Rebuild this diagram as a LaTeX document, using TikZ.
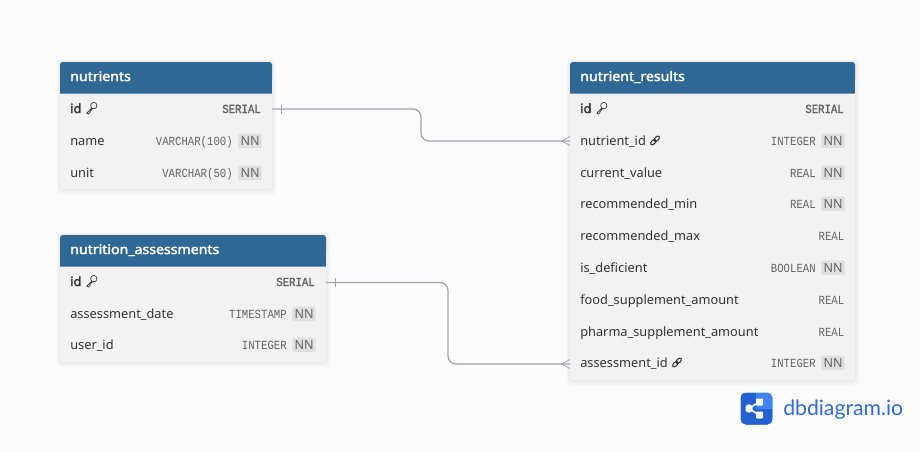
\documentclass[tikz,border=0pt]{standalone}
\usepackage{fontspec}
\setmainfont{Noto Sans}
\newfontfamily\boldf{Noto Sans}[FakeBold=2.2]
\newfontfamily\headf{Noto Sans}[FakeBold=2.4,FakeStretch=1.07]
\newfontfamily\monof[FakeStretch=0.86]{Liberation Mono}
\newfontfamily\monobf[FakeStretch=0.86,FakeBold=1.4]{Liberation Mono}
\newfontfamily\logof{Lato}
\usetikzlibrary{calc}
\definecolor{headblue}{HTML}{2F6795}
\definecolor{headline}{HTML}{6E97BB}
\definecolor{bodygray}{HTML}{F2F2F2}
\definecolor{pagebg}{HTML}{FCFCFC}
\definecolor{edgegray}{HTML}{A2A2AC}
\definecolor{fieldtxt}{HTML}{333333}
\definecolor{typetxt}{HTML}{646464}
\definecolor{nnbg}{HTML}{DFDFDF}
\definecolor{logoblue}{HTML}{2E6BDD}
\definecolor{logolite}{HTML}{3F83F0}
\definecolor{logodark}{HTML}{2361D0}
\tikzset{
  x=0.75pt,y=-0.75pt,
  fieldname/.style={anchor=base west,inner sep=0pt,text=fieldtxt,font=\fontsize{9.6pt}{11pt}\selectfont},
  pkname/.style={fieldname,font=\fontsize{9.6pt}{11pt}\boldf},
  typename/.style={anchor=base east,inner sep=0pt,text=typetxt,font=\fontsize{9.3pt}{11pt}\monof},
  pktype/.style={typename,font=\fontsize{9.3pt}{11pt}\monobf},
  nnbadge/.style={anchor=base east,inner xsep=1.6pt,inner ysep=0pt,fill=nnbg,rounded corners=1pt,text=typetxt,
     text height=8.6pt,text depth=2.4pt,font=\fontsize{9.4pt}{11pt}\selectfont},
  headtext/.style={anchor=base west,inner sep=0pt,text=white,font=\fontsize{9.9pt}{11pt}\headf},
  rel/.style={draw=edgegray,line width=0.95pt,rounded corners=6pt},
  relthin/.style={draw=edgegray,line width=0.6pt},
  keyicon/.style={draw=fieldtxt,line width=0.5pt,fill=none,line cap=round,line join=round},
}
\newcommand{\tableframe}[5]{%
  \foreach \s/\o in {4/0.010,3/0.014,2/0.018,1/0.024}{
    \fill[black,opacity=\o,rounded corners=3pt] (#1-\s*1.0,#2-\s*0.8) rectangle (#3+\s*1.2,#4+\s*1.6);
  }
  \fill[bodygray,rounded corners=2.2pt] (#1,#2+10) rectangle (#3,#4);
  \fill[headblue,rounded corners=2.2pt] (#1,#2) rectangle (#3,#2+20);
  \fill[headblue] (#1,#2+10) rectangle (#3,#2+31.2);
  \draw[headline,line width=0.6pt] (#1,#2+31.6) -- (#3,#2+31.6);
  \node[headtext] at (#1+10,#2+19) {#5};
}
\newcommand{\keyat}[2]{%
  \begin{scope}[shift={(#1,#2)}]
    \draw[keyicon] (2.3,-2.4) circle[radius=3.2];
    \draw[keyicon] (0.2,0.1) -- (-4.8,5.1) -- (-3.2,6) -- (-2.2,5) -- (-1.6,4.6) -- (-1.4,3.4) -- (1.0,0.9);
  \end{scope}}
\newcommand{\linkat}[2]{%
  \begin{scope}[shift={(#1,#2)}]
    \draw[draw=fieldtxt,line width=0.8pt,rotate=45] (-2.4,0) ellipse[x radius=3.3,y radius=1.9];
    \draw[draw=fieldtxt,line width=0.8pt,rotate=45] (2.4,0) ellipse[x radius=3.3,y radius=1.9];
  \end{scope}}
\newcommand{\typenn}[4]{%
  \node[nnbadge] (#1b) at (#2-10,#3) {NN};
  \node[typename] (#1t) at (#2-39,#3) {#4};
}
\newcommand{\typeonly}[4]{%
  \node[typename] (#1t) at (#2-10.5,#3) {#4};
}
\begin{document}
\begin{tikzpicture}
\useasboundingbox (0,0) rectangle (920,451);
\fill[pagebg] (0,0) rectangle (920,451);

% ---------- nutrients
\tableframe{60}{62}{272}{189}{nutrients}
\node[pkname] (n1n) at (70,113) {id};
\keyat{91.5}{108}
\node[pktype] (n1t) at (261,113) {SERIAL};
\coordinate (n1r) at (272,109);
\node[fieldname] (n2n) at (70,145) {name};
\typenn{n2}{272}{145}{VARCHAR(100)}
\node[fieldname] (n3n) at (70,177) {unit};
\typenn{n3}{272}{177}{VARCHAR(50)}

% ---------- nutrition_assessments
\tableframe{60}{235}{326}{362}{nutrition\_assessments}
\node[pkname] (a1n) at (70,286) {id};
\keyat{91.5}{281}
\node[pktype] (a1t) at (315,286) {SERIAL};
\coordinate (a1r) at (326,282.5);
\node[fieldname] (a2n) at (70,318) {assessment\_date};
\typenn{a2}{326}{318}{TIMESTAMP}
\node[fieldname] (a3n) at (70,349) {user\_id};
\typenn{a3}{326}{349}{INTEGER}

% ---------- nutrient_results
\tableframe{570}{62}{855}{380}{nutrient\_results}
\node[pkname] (r1n) at (580,113) {id};
\keyat{601.5}{108}
\node[pktype] (r1t) at (844,113) {SERIAL};
\node[fieldname] (r2n) at (580,145) {nutrient\_id};
\linkat{655}{140.5}
\coordinate (r2l) at (570,141);
\typenn{r2}{855}{145}{INTEGER}
\node[fieldname] (r3n) at (580,177) {current\_value};
\typenn{r3}{855}{177}{REAL}
\node[fieldname] (r4n) at (580,208) {recommended\_min};
\typenn{r4}{855}{208}{REAL}
\node[fieldname] (r5n) at (580,240) {recommended\_max};
\typeonly{r5}{855}{240}{REAL}
\node[fieldname] (r6n) at (580,272) {is\_deficient};
\typenn{r6}{855}{272}{BOOLEAN}
\node[fieldname] (r7n) at (580,304) {food\_supplement\_amount};
\typeonly{r7}{855}{304}{REAL}
\node[fieldname] (r8n) at (580,336) {pharma\_supplement\_amount};
\typeonly{r8}{855}{336}{REAL}
\node[fieldname] (r9n) at (580,367) {assessment\_id};
\linkat{677}{362.5}
\coordinate (r9l) at (570,364);
\typenn{r9}{855}{367}{INTEGER}

% ---------- connectors
\coordinate (m1) at (421,0);
\coordinate (m2) at (448,0);
\draw[rel] (n1r) -- (n1r -| m1) -- (r2l -| m1) -- (r2l);
\draw[rel] (a1r) -- (a1r -| m2) -- (r9l -| m2) -- (r9l);
\draw[relthin] ($(n1r)+(9.5,-4.5)$) -- ($(n1r)+(9.5,4.5)$);
\draw[relthin] ($(a1r)+(9.5,-4.5)$) -- ($(a1r)+(9.5,4.5)$);
\draw[relthin] ($(r2l)+(0,-4.5)$) -- ($(r2l)+(-8.5,0)$) -- ($(r2l)+(0,4.5)$);
\draw[relthin] ($(r9l)+(0,-4.5)$) -- ($(r9l)+(-8.5,0)$) -- ($(r9l)+(0,4.5)$);

% ---------- logo
\fill[logolite,rounded corners=4pt] (740.5,392.5) rectangle (772.5,424.5);
\begin{scope}
  \clip[rounded corners=4pt] (740.5,392.5) rectangle (772.5,424.5);
  \fill[logodark] (740.5,392.5) rectangle (756,424.5);
  \fill[logodark] (756,408.5) rectangle (772.5,424.5);
\end{scope}
\draw[white,line width=1.2pt] (759,402) -- (749,408.5) -- (759,415);
\fill[white] (745.5,406) -- (749,404.2) -- (752.5,406) -- (752.5,411) -- (749,412.8) -- (745.5,411) -- cycle;
\fill[white,rounded corners=0.6pt] (756,398.5) rectangle (763,405.5);
\fill[white,rounded corners=0.6pt] (756,411.5) rectangle (763,418.5);
\node[anchor=base west,inner sep=0pt,text=logoblue,font=\fontsize{15.9pt}{18pt}\logof] (logo) at (783,415) {dbdiagram.io};
\end{tikzpicture}
\end{document}
